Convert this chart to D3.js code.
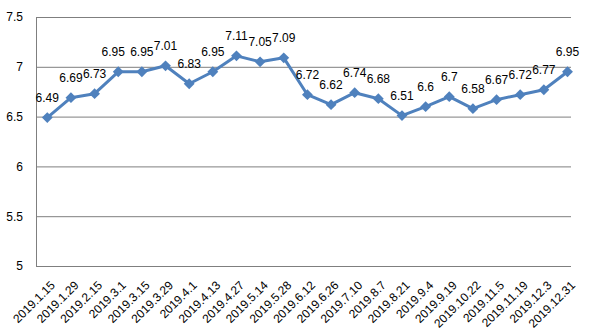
<!DOCTYPE html>
<html><head><meta charset="utf-8">
<script src="https://cdn.jsdelivr.net/npm/d3@7"></script>
<style>body{margin:0;background:#fff}svg{display:block}text{font-family:"Liberation Sans",Arial,sans-serif;fill:#000}</style>
</head><body>
<script>
const categories = ["2019.1.15","2019.1.29","2019.2.15","2019.3.1","2019.3.15","2019.3.29","2019.4.1","2019.4.13","2019.4.27","2019.5.14","2019.5.28","2019.6.12","2019.6.26","2019.7.10","2019.8.7","2019.8.21","2019.9.4","2019.9.19","2019.10.22","2019.11.5","2019.11.19","2019.12.3","2019.12.31"];
const values = [6.49,6.69,6.73,6.95,6.95,7.01,6.83,6.95,7.11,7.05,7.09,6.72,6.62,6.74,6.68,6.51,6.6,6.7,6.58,6.67,6.72,6.77,6.95];
const yTicks = [5,5.5,6,6.5,7,7.5];
const yTickLabels = ["5","5.5","6","6.5","7","7.5"];

const W = 600, H = 336;
const plot = {left: 36, right: 571, top: 17, bottom: 266};
const svg = d3.select("body").append("svg").attr("width", W).attr("height", H);

const x = d3.scalePoint().domain(categories).range([47.3, 567.5]);
const y = d3.scaleLinear().domain([5, 7.5]).range([plot.bottom, plot.top]);

// gridlines
const yAxis = d3.axisLeft(y).tickValues(yTicks).tickSize(-(plot.right - plot.left))
  .tickFormat((d, i) => yTickLabels[i]).tickPadding(13);
const gy = svg.append("g").attr("transform", `translate(${plot.left},0)`).call(yAxis);
gy.select(".domain").attr("stroke", "#7f7f7f").attr("stroke-width", 1);
gy.selectAll(".tick line").attr("stroke", "#7f7f7f").attr("stroke-width", 1);
gy.selectAll(".tick text").style("font-size", "12px").attr("fill", "#000");

// x axis labels
const xAxis = d3.axisBottom(x).tickSize(0).tickPadding(0);
const gx = svg.append("g").attr("transform", `translate(0,${plot.bottom})`).call(xAxis);
gx.select(".domain").remove();
gx.selectAll(".tick text")
  .style("font-size", "12px").attr("fill", "#000")
  .attr("text-anchor", "end")
  .attr("dy", null).attr("y", 0)
  .attr("transform", "translate(8,20) rotate(-45)");

// line
const line = d3.line().x((d, i) => x(categories[i])).y(d => y(d));
svg.append("path").datum(values).attr("d", line)
  .attr("fill", "none").attr("stroke", "#4F81BD").attr("stroke-width", 3).attr("stroke-linejoin", "round");

// markers
const diamond = d3.symbol().type(d3.symbolDiamond2).size(75);
svg.append("g").selectAll("path").data(values).join("path")
  .attr("d", diamond)
  .attr("transform", (d, i) => `translate(${x(categories[i])},${y(d)})`)
  .attr("fill", "#4F81BD");

// data labels; labels on the same level that collide are nudged apart
const labels = svg.append("g").selectAll("text").data(values).join("text")
  .attr("x", (d, i) => x(categories[i]))
  .attr("y", d => y(d) - 16)
  .attr("text-anchor", "middle")
  .style("font-size", "12px")
  .text(d => String(d));
const nodes = labels.nodes();
for (let i = 1; i < nodes.length; i++) {
  const a = nodes[i - 1].getBBox(), b = nodes[i].getBBox();
  const sameLevel = Math.abs(a.y - b.y) < 3;
  const need = a.x + a.width + 5 - b.x;
  if (sameLevel && need > 0) {
    nodes[i - 1].setAttribute("x", +nodes[i - 1].getAttribute("x") - need);
  }
}
</script>
</body></html>
